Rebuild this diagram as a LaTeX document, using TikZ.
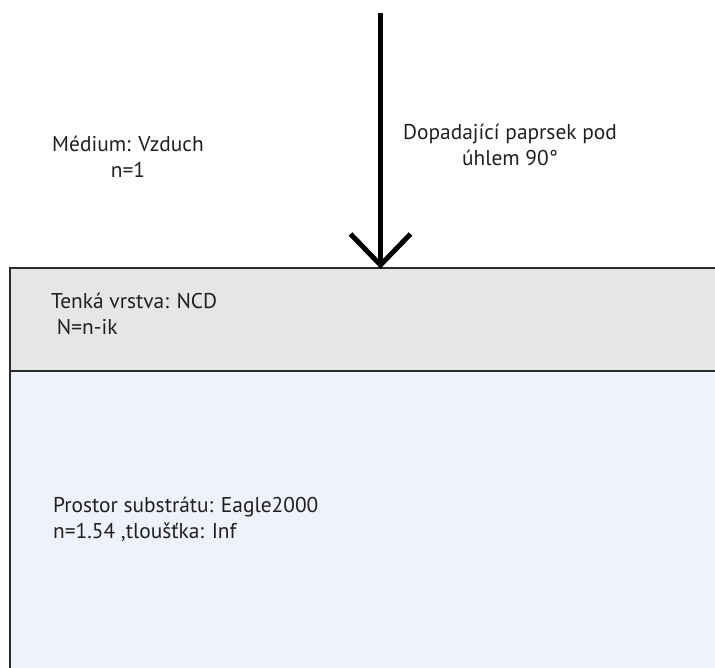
\documentclass[tikz,border=0pt]{standalone}
\usepackage{fontspec}
\setmainfont{PT Sans}
\usetikzlibrary{calc}
\definecolor{filmgray}{HTML}{E5E6E7}
\definecolor{substrateblue}{HTML}{EEF3FB}
\definecolor{edgegray}{HTML}{2A2A2A}
\definecolor{inkgray}{HTML}{231F20}
\tikzset{
  layer/.style={draw=none, rectangle, inner sep=0pt, anchor=north west},
  edge/.style={draw=edgegray, line width=2pt},
  label/.style={inner sep=0pt, font=\fontsize{21.4}{26}\selectfont, text=inkgray},
  beam/.style={line width=5pt, line join=miter, line cap=butt}
}
\begin{document}
\begin{tikzpicture}[x=1pt, y=-1pt]
\useasboundingbox (0,0) rectangle (715,668);
% layers
\node[layer, fill=substrateblue, minimum width=710pt, minimum height=300pt] (substrate) at (10,371) {};
\node[layer, fill=filmgray, minimum width=710pt, minimum height=103pt] (film) at (10,268) {};
% layer boundaries
\draw[edge] (film.north east) -- (film.north west) -- (substrate.south west);
\draw[edge] (film.south west) -- (film.south east);
% incident beam
\coordinate (src) at (380.5,13);
\coordinate (hit) at (380.5,265);
\draw[beam] (src) -- (hit);
\draw[beam] ($(hit)+(-30,-31)$) -- (hit) -- ($(hit)+(30,-31)$);
% labels
\node[label, align=center] (medium) at (128,157) {Médium: Vzduch\\n=1};
\node[label, align=center] (beamtext) at (510,145) {Dopadající paprsek pod\\úhlem 90°};
\node[label, align=left, anchor=west] (filmtext) at (51,314) {Tenká vrstva: NCD\\\ N=n-ik};
\node[label, align=left, anchor=west] (subtext) at (53,519) {Prostor substrátu: Eagle2000\\n=1.54 ,tloušťka: Inf};
\end{tikzpicture}
\end{document}
